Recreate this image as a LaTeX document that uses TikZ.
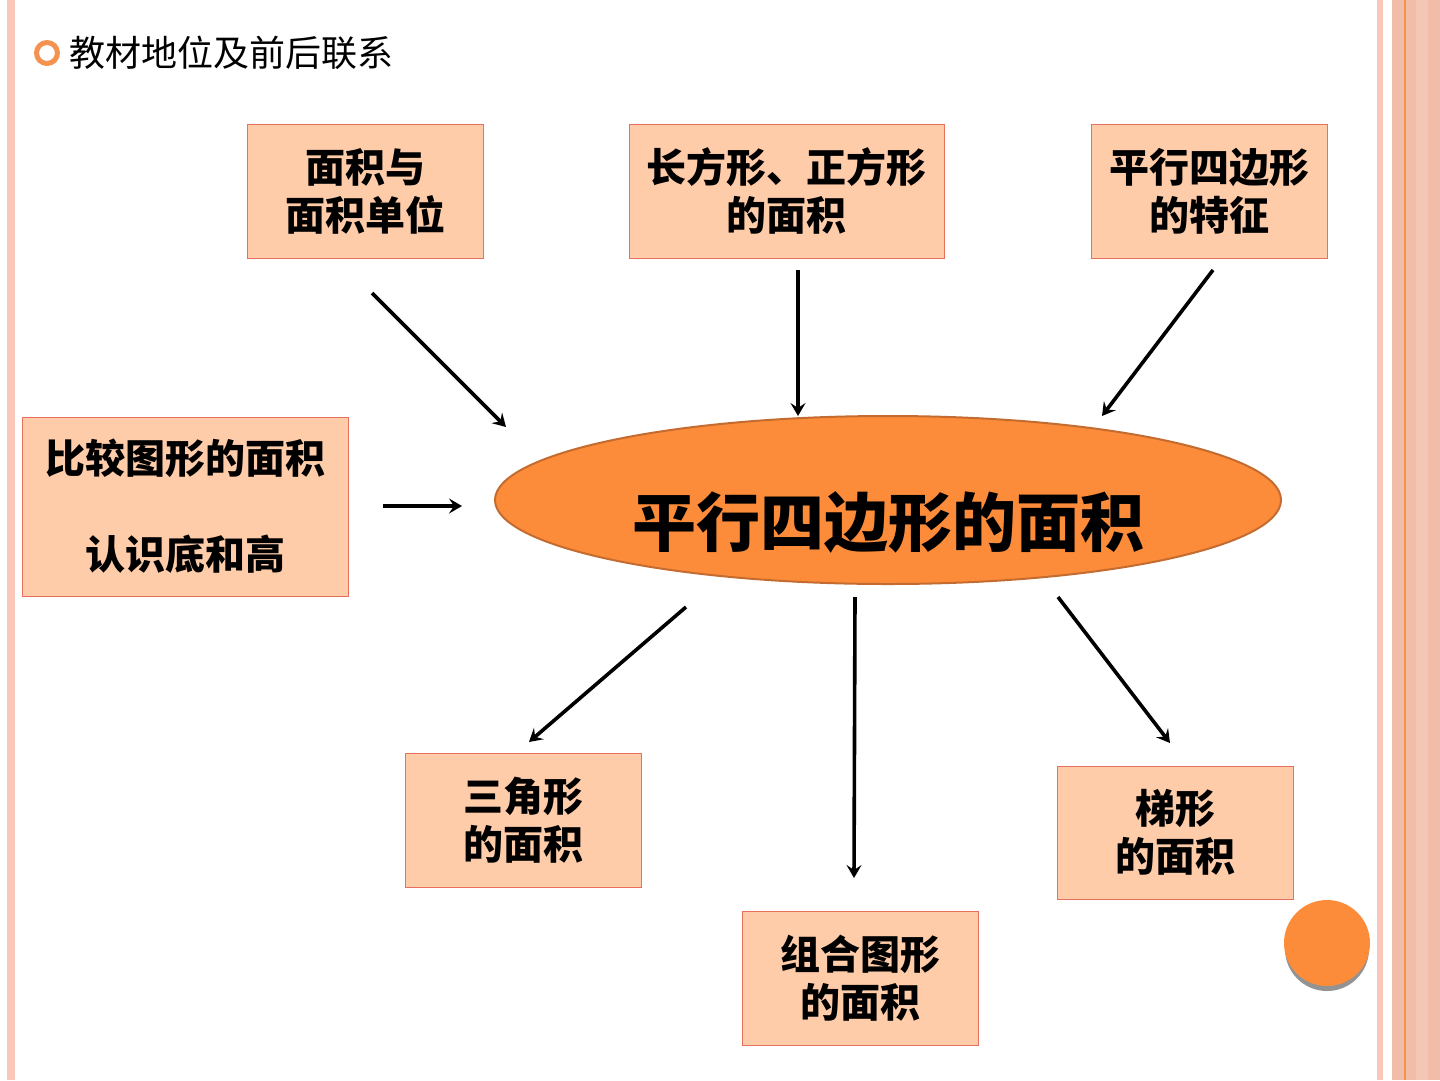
\documentclass[tikz,border=0pt]{standalone}
\usepackage{fontspec}
\newfontfamily\cjk{Noto Sans CJK SC}
\usetikzlibrary{arrows.meta,shapes.geometric}
\definecolor{boxfill}{RGB}{255,204,170}
\definecolor{boxline}{RGB}{232,112,92}
\definecolor{orangefill}{RGB}{253,140,58}
\definecolor{ellline}{RGB}{196,108,48}
\definecolor{stripe}{RGB}{250,200,184}
\definecolor{band}{RGB}{241,188,168}
\definecolor{bandline}{RGB}{244,146,80}
\tikzset{
  infobox/.style={draw=boxline, line width=1pt, fill=boxfill, minimum width=236pt, minimum height=134pt, inner sep=0pt, align=center, font=\cjk\bfseries\fontsize{40}{48}\selectfont},
  link/.style={line width=3.6pt, -{Stealth[length=13pt,width=15pt,inset=5pt]}}
}
\begin{document}
\begin{tikzpicture}[x=1pt,y=-1pt]
\useasboundingbox (0,0) rectangle (1440,1080);
\fill[white] (0,0) rectangle (1440,1080);
% side decoration
\fill[stripe] (7,0) rectangle (15,1080);
\fill[stripe] (1377,0) rectangle (1383,1080);
\fill[band] (1392,0) rectangle (1440,1080);
\fill[band!85!white] (1416,0) rectangle (1428,1080);
\fill[bandline] (1403.5,0) rectangle (1405.5,1080);
% title
\draw[bandline, line width=5pt] (47,53) circle (10.5pt);
\node[anchor=west, inner sep=0pt, font=\cjk\fontsize{36}{42}\selectfont] (title) at (69,53) {教材地位及前后联系};
% boxes
\node[infobox] (A) at (365,191) {面积与\\面积单位};
\node[infobox, minimum width=315pt] (B) at (786.5,191) {长方形、正方形\\的面积};
\node[infobox] (C) at (1209,191) {平行四边形\\的特征};
\node[infobox, minimum width=326pt, minimum height=179pt, font=\cjk\bfseries\fontsize{40}{96}\selectfont] (D) at (185,506.5) {比较图形的面积\\认识底和高};
\node[infobox] (E) at (523,820.5) {三角形\\的面积};
\node[infobox] (F) at (860,978.5) {组合图形\\的面积};
\node[infobox, minimum height=133pt] (G) at (1175,832.5) {梯形\\的面积};
% central ellipse
\node[ellipse, draw=ellline, line width=2pt, fill=orangefill, minimum width=786pt, minimum height=168pt, inner sep=0pt] (M) at (888,500) {};
\node[font=\cjk\bfseries\fontsize{64}{70}\selectfont, inner sep=0pt] (Mt) at (888,522) {平行四边形的面积};
% circle with shadow
\fill[gray!85] (1327,949) circle (42pt);
\node[circle, fill=orangefill, minimum size=86pt, inner sep=0pt] (dot) at (1327,943) {};
% arrow end points
\coordinate (a1) at (372,293); \coordinate (a2) at (506,427);
\coordinate (b1) at (798,270); \coordinate (b2) at (798,416);
\coordinate (c1) at (1213,270); \coordinate (c2) at (1102,416);
\coordinate (d1) at (383,506); \coordinate (d2) at (462,506);
\coordinate (e1) at (686,607); \coordinate (e2) at (529,742);
\coordinate (f1) at (855,597); \coordinate (f2) at (854,878);
\coordinate (g1) at (1058,597); \coordinate (g2) at (1170,743);
\draw[link] (a1) -- (a2);
\draw[link] (b1) -- (b2);
\draw[link] (c1) -- (c2);
\draw[link] (d1) -- (d2);
\draw[link] (e1) -- (e2);
\draw[link] (f1) -- (f2);
\draw[link] (g1) -- (g2);
\end{tikzpicture}
\end{document}
